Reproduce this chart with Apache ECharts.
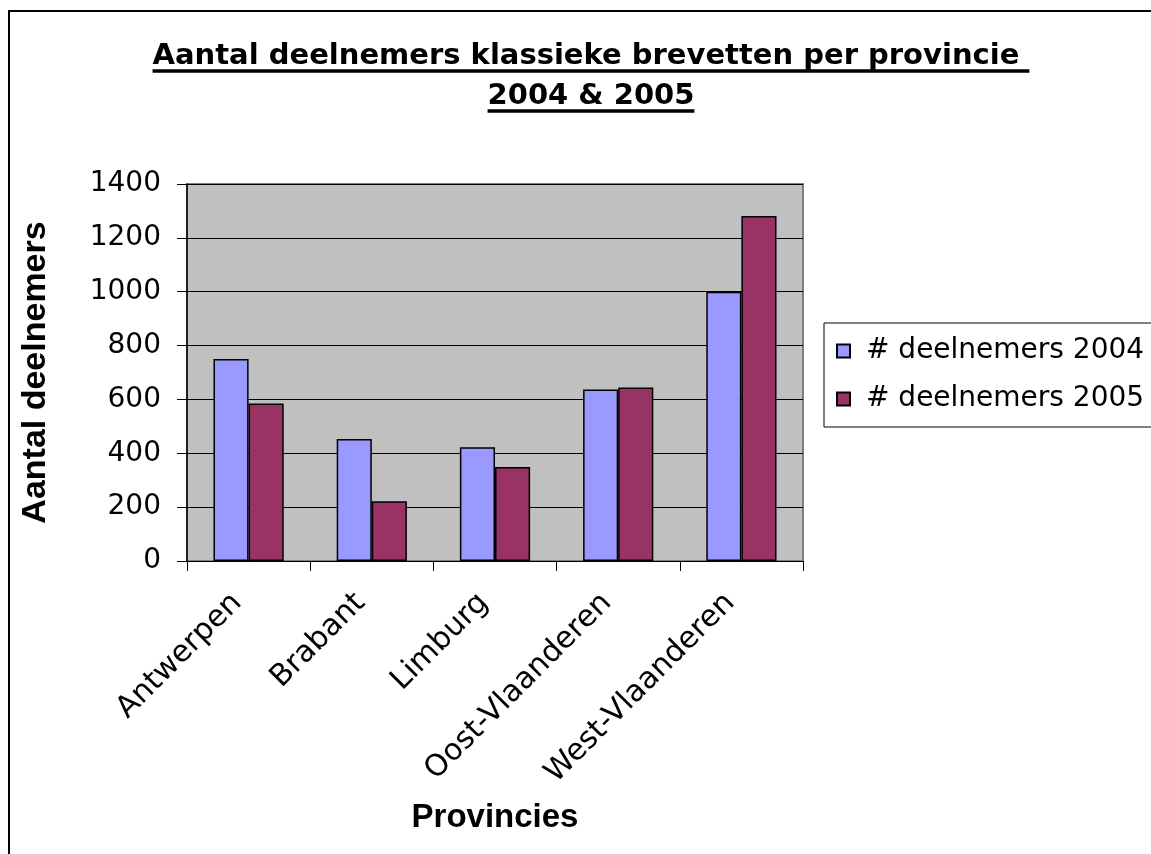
<!DOCTYPE html>
<html>
<head>
<meta charset="utf-8">
<script src="https://cdn.jsdelivr.net/npm/echarts@6/dist/echarts.min.js"></script>
<style>
html,body{margin:0;padding:0;background:#fff;}
#chart{width:1151px;height:854px;}
</style>
</head>
<body>
<div id="chart"></div>
<script>
const categories = ['Antwerpen', 'Brabant', 'Limburg', 'Oost-Vlaanderen', 'West-Vlaanderen'];
const values2004 = [750, 453, 422, 637, 1000];
const values2005 = [585, 222, 349, 644, 1281];
const seriesNames = ['# deelnemers 2004', '# deelnemers 2005'];
const titleLines = ['Aantal deelnemers klassieke brevetten per provincie ', '2004 & 2005'];
const yAxisName = 'Aantal deelnemers';
const xAxisName = 'Provincies';

const titleFont = 'bold 29px "DejaVu Sans"';
const titleCx = 591;
const ctx = document.createElement('canvas').getContext('2d');
ctx.font = titleFont;
const w1 = ctx.measureText(titleLines[0]).width;
const w2 = ctx.measureText(titleLines[1]).width;

const chart = echarts.init(document.getElementById('chart'), null, {renderer: 'canvas'});
const option = {
  backgroundColor: '#ffffff',
  animation: false,
  title: {
    text: titleLines.join('\n'),
    left: titleCx,
    top: 36,
    textAlign: 'center',
    padding: 0,
    textStyle: {fontFamily: 'DejaVu Sans', fontWeight: 'bold', fontSize: 29, color: '#000', lineHeight: 40}
  },
  graphic: [
    {type: 'rect', shape: {x: 9, y: 11, width: 1300, height: 1000}, style: {fill: null, stroke: '#000', lineWidth: 2}, silent: true},
    {type: 'line', shape: {x1: titleCx - w1 / 2, y1: 71, x2: titleCx + w1 / 2, y2: 71}, style: {stroke: '#000', lineWidth: 3.5}, silent: true},
    {type: 'line', shape: {x1: titleCx - w2 / 2, y1: 111, x2: titleCx + w2 / 2, y2: 111}, style: {stroke: '#000', lineWidth: 3.5}, silent: true}
  ],
  legend: {
    orient: 'vertical',
    left: 824,
    top: 323,
    padding: [13, 40, 13, 12],
    itemWidth: 13,
    itemHeight: 13,
    itemGap: 18,
    icon: 'rect',
    backgroundColor: '#fff',
    borderColor: '#000',
    borderWidth: 1,
    borderRadius: 0,
    textStyle: {fontFamily: 'DejaVu Sans', fontSize: 28, color: '#000', lineHeight: 30, padding: [0, 0, 0, 11]},
    data: seriesNames
  },
  grid: {
    left: 187, right: 348, top: 184, bottom: 293,
    show: true, backgroundColor: '#c0c0c0', borderColor: '#808080', borderWidth: 2,
    containLabel: false
  },
  xAxis: {
    type: 'category',
    data: categories,
    name: xAxisName,
    nameLocation: 'middle',
    nameGap: 240,
    nameTextStyle: {fontFamily: 'Liberation Sans', fontWeight: 'bold', fontSize: 33, color: '#000'},
    axisLine: {show: true, lineStyle: {color: '#000', width: 1}},
    axisTick: {show: true, length: 10, alignWithLabel: false, lineStyle: {color: '#000'}},
    axisLabel: {rotate: 45, margin: 26, interval: 0, padding: [0, 16, 0, 0], fontFamily: 'DejaVu Sans', fontSize: 30, color: '#000'},
    splitLine: {show: false}
  },
  yAxis: {
    type: 'value',
    min: 0, max: 1400, interval: 200,
    name: yAxisName,
    nameLocation: 'middle',
    nameGap: 134,
    nameRotate: 90,
    nameTextStyle: {fontFamily: 'Liberation Sans', fontWeight: 'bold', fontSize: 34, color: '#000'},
    axisLine: {show: true, lineStyle: {color: '#000', width: 1.5}},
    axisTick: {show: true, length: 10, lineStyle: {color: '#000'}},
    axisLabel: {margin: 26, fontFamily: 'DejaVu Sans', fontSize: 28, color: '#000', formatter: function (v) { return String(v); }},
    splitLine: {show: true, lineStyle: {color: '#000', width: 1}}
  },
  series: [
    {name: seriesNames[0], type: 'bar', data: values2004, barGap: '0%', barCategoryGap: '43%',
     itemStyle: {color: '#9999ff', borderColor: '#000', borderWidth: 1.5}},
    {name: seriesNames[1], type: 'bar', data: values2005, barGap: '0%', barCategoryGap: '43%',
     itemStyle: {color: '#993366', borderColor: '#000', borderWidth: 1.5}}
  ]
};
chart.setOption(option);
</script>
</body>
</html>
